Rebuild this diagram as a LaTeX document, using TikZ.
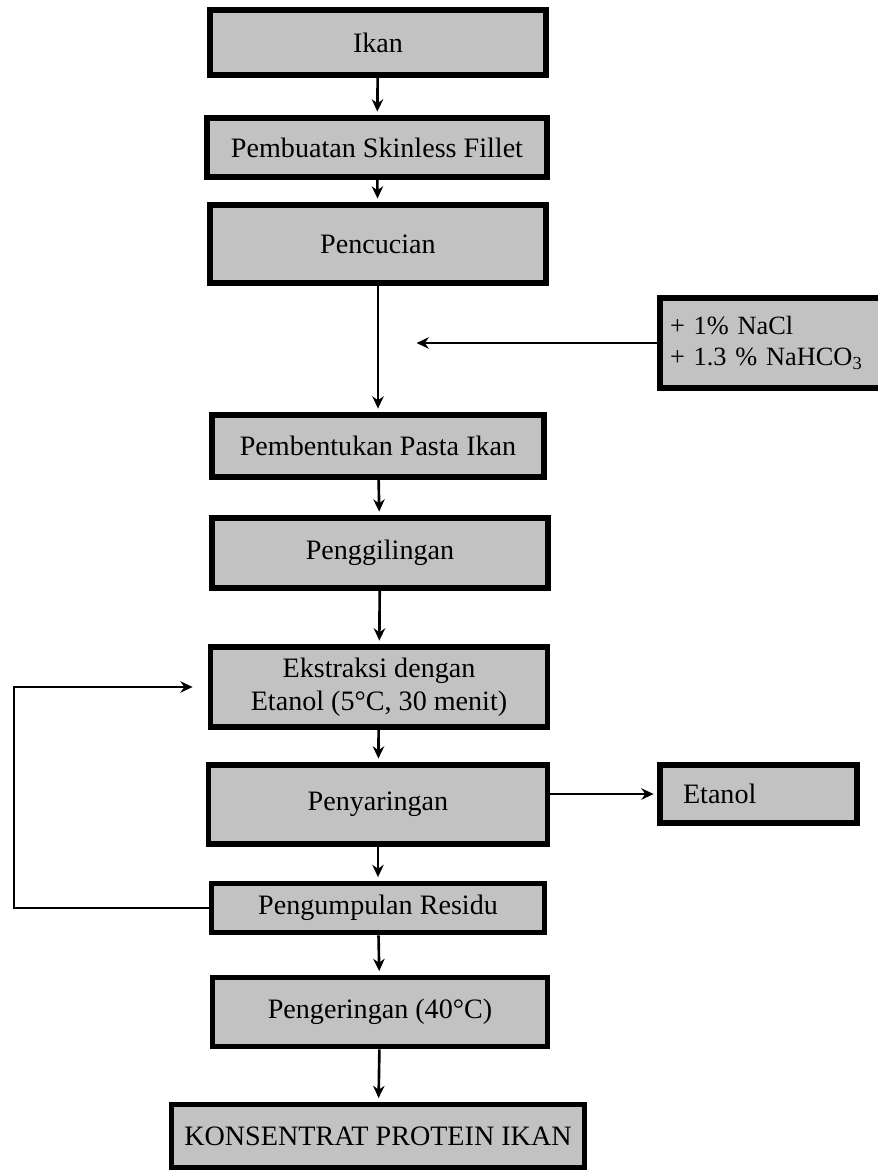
\documentclass[tikz,border=0pt]{standalone}
\usepackage{fontspec}
\setmainfont{Liberation Serif}
\usetikzlibrary{arrows.meta}

\begin{document}
\begin{tikzpicture}[x=0.02cm,y=-0.02cm,shorten >=2pt,-{Stealth[length=7pt,width=6.5pt]},line width=1.5pt]
                \tikzstyle{langkah}=[rectangle,draw=black,line width=3.3pt,fill=black!24,inner sep=0pt,font=\fontsize{16}{19}\selectfont,align=center]
                \useasboundingbox (0,0) rectangle (877,1171);
                        \node[langkah,minimum width=6.72cm,minimum height=1.3cm] (L-ikan) at (378,42.5){Ikan};
                        \node[langkah,minimum width=6.8cm,minimum height=1.18cm] (L-skinless) at (377,147.5){Pembuatan Skinless Fillet};
                        \node[langkah,minimum width=6.72cm,minimum height=1.56cm] (L-cuci) at (378,244){Pencucian};
                        \node[langkah,minimum width=6.64cm,minimum height=1.24cm] (L-pasta) at (378,446){Pembentukan Pasta Ikan};
                        \node[langkah,minimum width=6.72cm,minimum height=1.4cm] (L-giling) at (380,553){Penggilingan};
                        \node[langkah,minimum width=6.74cm,minimum height=1.6cm] (L-ekstrak) at (379,687){Ekstraksi dengan\\Etanol (5°C, 30 menit)};
                        \node[langkah,minimum width=6.78cm,minimum height=1.58cm] (L-saring) at (378,804.5){Penyaringan};
                        \node[langkah,minimum width=6.66cm,minimum height=0.98cm] (L-residu) at (378,908){Pengumpulan Residu};
                        \node[langkah,minimum width=6.7cm,minimum height=1.38cm] (L-kering) at (380,1012){Pengeringan (40°C)};
                        \node[langkah,minimum width=8.26cm,minimum height=1.26cm] (L-kpi) at (378,1136){KONSENTRAT PROTEIN IKAN};
                        \node[langkah,minimum height=1.8cm,text width=4.1cm,align=left,inner xsep=0.2cm,font=\fontsize{15}{18}\selectfont] (L-nacl) at (772.5,343){+ 1\% NaCl\\+ 1.3 \% NaHCO\textsubscript{3}};
                        \node[langkah,minimum height=1.16cm,text width=3.02cm,align=left,inner xsep=0.46cm] (L-etanol) at (758.5,794){Etanol};
                        \coordinate (tuju) at (413,343);
                        \coordinate (balik) at (14,908);

                    \foreach \from/\to in {ikan/skinless, skinless/cuci, cuci/pasta, pasta/giling, giling/ekstrak, ekstrak/saring, saring/residu, residu/kering, kering/kpi}
                        \draw (L-\from) -- (L-\to);
                    \draw (L-nacl.west) -- (tuju);
                    \draw (L-saring.east |- L-etanol) -- (L-etanol.west);
                    \draw[shorten >=0.3cm] (L-residu.west) -- (balik) |- (L-ekstrak.west);
            \end{tikzpicture}
\end{document}
